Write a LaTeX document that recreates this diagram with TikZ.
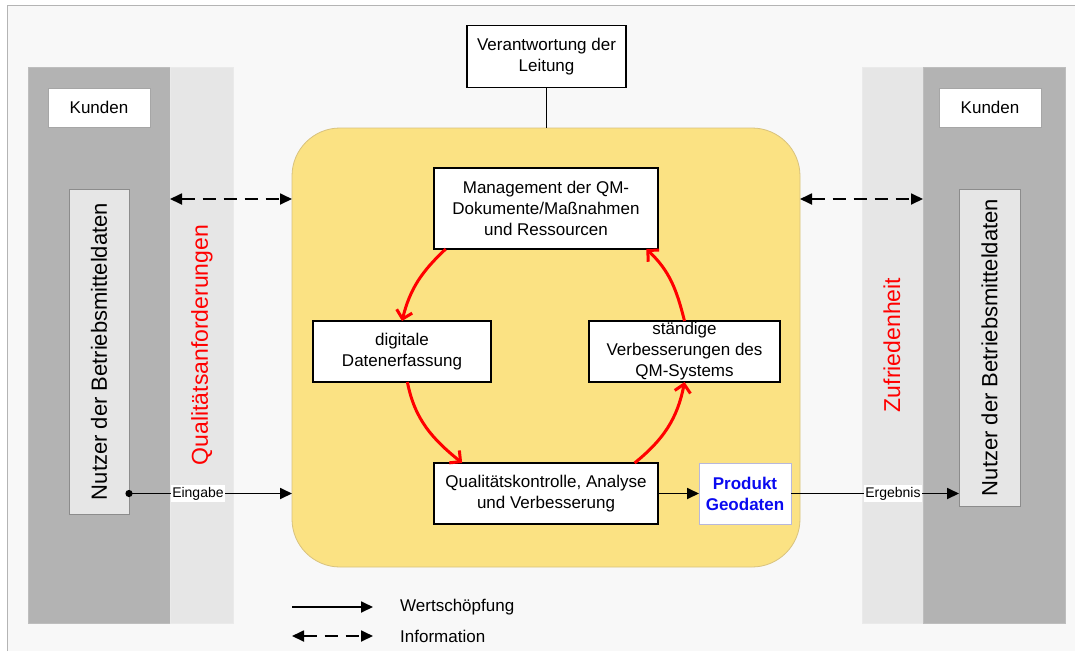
\documentclass[tikz,border=0pt]{standalone}
\usepackage{fontspec}
\setmainfont{Liberation Sans}
\usetikzlibrary{arrows.meta,calc}
\definecolor{bgc}{HTML}{F8F8F8}
\definecolor{framec}{HTML}{B4B4B4}
\definecolor{darkp}{HTML}{B3B3B3}
\definecolor{lightp}{HTML}{E6E6E6}
\definecolor{yel}{HTML}{FBE283}
\definecolor{yelb}{HTML}{D8C27E}
\definecolor{redc}{HTML}{FF0000}
\definecolor{bluec}{HTML}{0A0AF0}
\definecolor{lavb}{HTML}{B8B8DC}
\begin{document}
\begin{tikzpicture}[x=1pt,y=1pt,
  panel/.style={inner sep=0pt, outer sep=0pt, draw=#1!85!white, fill=#1, line width=0.8pt},
  box/.style={draw=black, fill=white, line width=1.3pt, align=center, inner sep=0pt, outer sep=0pt,
    font=\fontsize{17}{21}\selectfont},
  kbox/.style={draw=gray!70, fill=white, line width=0.8pt, inner sep=0pt, outer sep=0pt,
    minimum width=102pt, minimum height=39pt, font=\fontsize{17}{21}\selectfont},
  nbox/.style={draw=gray!90, fill=lightp, line width=0.8pt, inner sep=0pt, outer sep=0pt},
  vtext/.style={rotate=90, font=\fontsize{22}{26}\selectfont},
  rtext/.style={rotate=90, text=redc, font=\fontsize{23}{27}\selectfont},
  flow/.style={line width=1.8pt, -{Triangle[length=12pt,width=11pt]}},
  info/.style={line width=1.8pt, dash pattern=on 13pt off 8pt, {Triangle[length=12pt,width=11pt]}-{Triangle[length=12pt,width=11pt]}},
  cyc/.style={line width=3pt, draw=redc, -{Straight Barb[length=8pt,width=16pt,line width=3pt]}},
  lbl/.style={fill=white, inner sep=1.5pt, font=\fontsize{14}{16}\selectfont},
  legtext/.style={anchor=west, inner sep=0pt, font=\fontsize{17}{21}\selectfont}]
\useasboundingbox (0,0) rectangle (1075,-651);
\fill[white] (0,0) rectangle (1075,-651);
\fill[bgc] (7,-5) rectangle (1075,-651);
\draw[framec, line width=1pt] (7,-651) -- (7,-5) -- (1075,-5);

% side panels
\node[panel=darkp, minimum width=142pt, minimum height=556pt] (ldark) at (99,-345) {};
\node[panel=lightp, minimum width=63pt, minimum height=556pt] (llight) at (201.5,-345) {};
\node[panel=lightp, minimum width=61pt, minimum height=556pt] (rlight) at (892.5,-345) {};
\node[panel=darkp, minimum width=142pt, minimum height=556pt] (rdark) at (994,-345) {};

\node[kbox] (kl) at (99,-107.5) {Kunden};
\node[kbox] (kr) at (990,-107.5) {Kunden};

\node[nbox, minimum width=60pt, minimum height=325pt] (nl) at (99,-351.5) {};
\node[vtext] at (nl.center) {Nutzer der Betriebsmitteldaten};
\node[nbox, minimum width=61pt, minimum height=317pt] (nr) at (989.5,-347.5) {};
\node[vtext] at (nr.center) {Nutzer der Betriebsmitteldaten};

\node[rtext] at (202,-345) {Qualitätsanforderungen};
\node[rtext] at (892,-345) {Zufriedenheit};

% core
\node[draw=yelb, fill=yel, line width=0.8pt, rounded corners=48pt, minimum width=508pt, minimum height=439pt,
  inner sep=0pt, outer sep=0pt] (core) at (546,-347.5) {};

\node[box, minimum width=159pt, minimum height=62pt] (ver) at (546.5,-56.5) {Verantwortung der\\Leitung};
\draw[line width=1.3pt] (ver.south) -- (ver.south |- core.north);

\node[box, minimum width=224pt, minimum height=81pt] (m) at (546,-208.5) {Management der QM-\\Dokumente/Maßnahmen\\und Ressourcen};
\node[box, minimum width=178pt, minimum height=61pt] (d) at (402,-351.5) {digitale\\Datenerfassung};
\node[box, minimum width=191pt, minimum height=61pt] (s) at (684.5,-351.5) {ständige\\Verbesserungen des\\QM-Systems};
\node[box, minimum width=224pt, minimum height=61pt] (q) at (546,-493.5) {Qualitätskontrolle, Analyse\\und Verbesserung};
\node[box, draw=lavb, line width=1pt, minimum width=92pt, minimum height=61pt, text=bluec,
  font=\fontsize{17}{21}\selectfont\bfseries] (p) at (745,-493.5) {Produkt\\Geodaten};

% cycle
\draw[cyc] (m.-158) to[out=223,in=76] (d.north);
\draw[cyc] (d.-80) to[out=281,in=141] (q.160);
\draw[cyc] (q.19) to[out=39,in=259] (s.south);
\draw[cyc] (s.north) to[out=104,in=317] (m.-22);

% flows
\coordinate (ein) at (nl.east |- q.center);
\fill (ein) circle (3.6pt);
\draw[flow] (ein) -- node[lbl, pos=0.423] {Eingabe} (core.west |- q.center);
\draw[flow] (q.east) -- (p.west);
\draw[flow] (p.east) -- node[lbl, pos=0.607] {Ergebnis} (nr.west |- p.east);

% information
\coordinate (il) at (ldark.east |- 0,-199);
\coordinate (ir) at (rdark.west |- 0,-199);
\draw[info] (il) -- (core.west |- il);
\draw[info] (core.east |- ir) -- (ir);

% legend
\coordinate (la1) at (292,-607);
\coordinate (la2) at (373,-607);
\coordinate (lb1) at (292,-636);
\coordinate (lb2) at (373,-636);
\draw[flow] (la1) -- (la2);
\draw[info] (lb1) -- (lb2);
\node[legtext] (lt1) at (400,-607) {Wertschöpfung};
\node[legtext] (lt2) at (400,-636) {Information};
\end{tikzpicture}
\end{document}
